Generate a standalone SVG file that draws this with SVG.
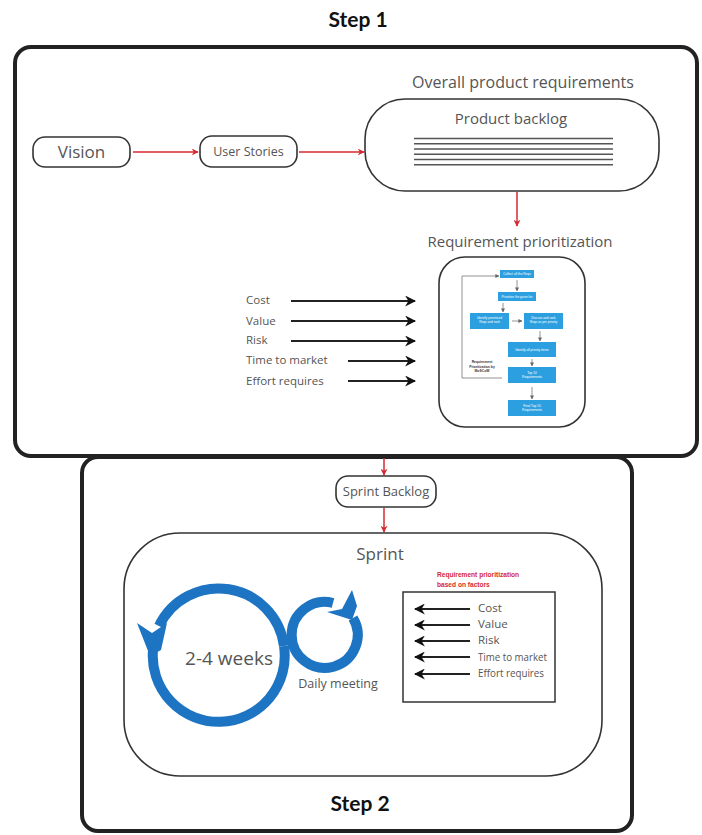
<svg xmlns="http://www.w3.org/2000/svg" width="702" height="835" viewBox="0 0 702 835">
  <style>
    .frame { fill: #fff; stroke: #222; stroke-width: 4; }
    .node { fill: #fff; stroke: #333; stroke-width: 1.6; }
    .title { font-family: "Lato", "Liberation Sans", sans-serif; font-weight: bold; font-size: 21px; fill: #111; text-anchor: middle; }
    .lbl { font-family: "Open Sans", "Liberation Sans", sans-serif; fill: #555; text-anchor: middle; }
    .fac { font-family: "Open Sans", "Liberation Sans", sans-serif; fill: #555; font-size: 11.5px; }
    .red { stroke: #d42a32; stroke-width: 1.5; fill: none; }
    .blk { stroke: #222; stroke-width: 2; fill: none; }
    .line { stroke: #555; stroke-width: 1.4; }
    .fc { fill: #2b9fe0; }
    .fct { font-family: "Liberation Sans", sans-serif; font-size: 3.2px; fill: #fff; text-anchor: middle; }
    .ring { fill: none; stroke: #1d74c2; stroke-width: 10; }
  </style>
  <defs>
    <marker id="ar" viewBox="0 0 10 10" refX="9" refY="5" markerWidth="7" markerHeight="7" orient="auto" markerUnits="userSpaceOnUse">
      <path d="M0,0 L10,5 L0,10 L3,5 z" fill="#d42a32"/>
    </marker>
    <marker id="ab" viewBox="0 0 10 10" refX="9" refY="5" markerWidth="11" markerHeight="11" orient="auto" markerUnits="userSpaceOnUse">
      <path d="M0,0 L10,5 L0,10 L3,5 z" fill="#111"/>
    </marker>
    <marker id="ag" viewBox="0 0 10 10" refX="9" refY="5" markerWidth="4" markerHeight="4" orient="auto" markerUnits="userSpaceOnUse">
      <path d="M0,0 L10,5 L0,10 z" fill="#666"/>
    </marker>
  </defs>

  <!-- stage frames -->
  <g id="step2">
    <rect class="frame" x="82" y="457" width="550" height="374" rx="16"/>
    <text class="title" x="360" y="811">Step 2</text>
  </g>
  <g id="step1">
    <rect class="frame" x="15" y="47" width="682" height="409" rx="16"/>
    <text class="title" x="358" y="27">Step 1</text>
  </g>

  <g id="vision">
    <rect class="node" x="33" y="137" width="97" height="30" rx="12"/>
    <text class="lbl" x="81.5" y="158" font-size="17">Vision</text>
  </g>

  <g id="user-stories">
    <rect class="node" x="200" y="136" width="97" height="31" rx="12"/>
    <text class="lbl" x="248.5" y="156" font-size="12.5" fill="#777">User Stories</text>
  </g>

  <g id="product-backlog">
    <text class="lbl" x="523" y="88" font-size="16">Overall product requirements</text>
    <rect class="node" x="365" y="99" width="294" height="92" rx="40"/>
    <text class="lbl" x="511" y="124" font-size="15">Product backlog</text>
    <g class="line">
      <line x1="414" y1="138.5" x2="613" y2="138.5"/>
      <line x1="414" y1="143.8" x2="613" y2="143.8"/>
      <line x1="414" y1="149" x2="613" y2="149"/>
      <line x1="414" y1="154.3" x2="613" y2="154.3"/>
      <line x1="414" y1="159.5" x2="613" y2="159.5"/>
      <line x1="414" y1="164.8" x2="613" y2="164.8"/>
    </g>
  </g>

  <g id="requirement-prioritization">
    <text class="lbl" x="520" y="247" font-size="15">Requirement prioritization</text>
    <rect class="node" x="439" y="257" width="146" height="170" rx="26" stroke-width="2"/>
    <!-- embedded prioritization flow -->
    <rect class="fc" x="500" y="270" width="34" height="8"/>
    <rect class="fc" x="498" y="292" width="38" height="9"/>
    <rect class="fc" x="470" y="313" width="39" height="16"/>
    <rect class="fc" x="524" y="313" width="39" height="16"/>
    <rect class="fc" x="508" y="342" width="48" height="15"/>
    <rect class="fc" x="508" y="367" width="48" height="16"/>
    <rect class="fc" x="508" y="400" width="48" height="16"/>
    <text class="fct" x="517" y="275">Collect all the Reqs</text>
    <text class="fct" x="517" y="297.5">Prioritize the given list</text>
    <text class="fct" x="489.5" y="319">Identify prioritized</text>
    <text class="fct" x="489.5" y="323">Reqs and rank</text>
    <text class="fct" x="543.5" y="319">Discuss and rank</text>
    <text class="fct" x="543.5" y="323">Reqs as per priority</text>
    <text class="fct" x="532" y="351">Identify all priority items</text>
    <text class="fct" x="532" y="374">Top 10</text>
    <text class="fct" x="532" y="378">Requirements</text>
    <text class="fct" x="532" y="407">Final Top 10</text>
    <text class="fct" x="532" y="411">Requirements</text>
    <g fill="#333" font-family="Liberation Sans, sans-serif" font-size="3.4" font-weight="bold" text-anchor="middle">
      <text x="482" y="363">Requirement</text>
      <text x="482" y="367.5">Prioritization by</text>
      <text x="482" y="372">MoSCoW</text>
    </g>
    <g stroke="#666" stroke-width="0.7" fill="none">
      <path d="M502,378 H462 V276 H499" marker-end="url(#ag)"/>
      <line x1="517" y1="280" x2="517" y2="291" marker-end="url(#ag)"/>
      <line x1="503" y1="303" x2="503" y2="312" marker-end="url(#ag)"/>
      <line x1="512" y1="321" x2="522" y2="321" marker-end="url(#ag)"/>
      <line x1="540" y1="331" x2="540" y2="341" marker-end="url(#ag)"/>
      <line x1="532" y1="359" x2="532" y2="366" marker-end="url(#ag)"/>
      <line x1="532" y1="387" x2="532" y2="399" marker-end="url(#ag)"/>
    </g>
  </g>

  <g id="factors">
    <text class="fac" x="246" y="304">Cost</text>
    <text class="fac" x="246" y="325">Value</text>
    <text class="fac" x="246" y="344">Risk</text>
    <text class="fac" x="246" y="364">Time to market</text>
    <text class="fac" x="246" y="385">Effort requires</text>
  </g>

  <g id="sprint-backlog">
    <rect class="node" x="336" y="476" width="100" height="31" rx="12"/>
    <text class="lbl" x="386" y="496" font-size="13" fill="#777">Sprint Backlog</text>
  </g>

  <g id="sprint">
    <rect class="node" x="124" y="533" width="478" height="243" rx="56" stroke="#555" stroke-width="1.3"/>
    <text class="lbl" x="380" y="560" font-size="17">Sprint</text>
    <!-- sprint cycle loop -->
    <path class="ring" d="M153,650 A66,66 0 1 0 284,646"/>
    <path class="ring" d="M284,646 A66,66 0 0 0 159,626"/>
    <path d="M137,623 L152,633 L167,623 L161,650 L150,656 Z" fill="#1d74c2"/>
    <!-- daily loop -->
    <path class="ring" d="M353,618 A33,33 0 1 1 333,603"/>
    <path d="M327,612 L342,609 L352,590 L357,606 L352,620 Z" fill="#1d74c2"/>
    <text class="lbl" x="229" y="665" font-size="19">2-4 weeks</text>
    <text class="lbl" x="338" y="688" font-size="12.5" fill="#777">Daily meeting</text>
  </g>

  <g id="factor-box">
    <g font-family="Liberation Sans, sans-serif" font-size="6.6" font-weight="bold" fill="#d42a32">
      <text x="437" y="577">Requirement prioritization</text>
      <text x="437" y="587">based on factors</text>
    </g>
    <rect x="403" y="592" width="152" height="110" fill="#fff" stroke="#333" stroke-width="1.5"/>
    <g class="fac" font-size="9.5">
      <text x="478" y="612">Cost</text>
      <text x="478" y="628">Value</text>
      <text x="478" y="644">Risk</text>
      <text x="478" y="661" textLength="69" lengthAdjust="spacingAndGlyphs">Time to market</text>
      <text x="478" y="677" textLength="66" lengthAdjust="spacingAndGlyphs">Effort requires</text>
    </g>
  </g>

  <!-- connectors -->
  <g id="connectors">
    <line class="red" x1="133" y1="152" x2="198" y2="152" marker-end="url(#ar)"/>
    <line class="red" x1="299" y1="152" x2="364" y2="152" marker-end="url(#ar)"/>
    <line class="red" x1="517" y1="192" x2="517" y2="226" marker-end="url(#ar)"/>
    <line class="red" x1="384" y1="458" x2="384" y2="475" marker-end="url(#ar)"/>
    <line class="red" x1="384" y1="508" x2="384" y2="532" marker-end="url(#ar)"/>
    <line class="blk" x1="291" y1="301" x2="415" y2="301" marker-end="url(#ab)"/>
    <line class="blk" x1="291" y1="321" x2="415" y2="321" marker-end="url(#ab)"/>
    <line class="blk" x1="291" y1="341" x2="415" y2="341" marker-end="url(#ab)"/>
    <line class="blk" x1="348" y1="361" x2="415" y2="361" marker-end="url(#ab)"/>
    <line class="blk" x1="348" y1="381" x2="415" y2="381" marker-end="url(#ab)"/>
    <line class="blk" x1="470" y1="609" x2="415" y2="609" marker-end="url(#ab)"/>
    <line class="blk" x1="470" y1="625" x2="415" y2="625" marker-end="url(#ab)"/>
    <line class="blk" x1="470" y1="641" x2="415" y2="641" marker-end="url(#ab)"/>
    <line class="blk" x1="470" y1="657" x2="415" y2="657" marker-end="url(#ab)"/>
    <line class="blk" x1="470" y1="674" x2="415" y2="674" marker-end="url(#ab)"/>
  </g>
</svg>
